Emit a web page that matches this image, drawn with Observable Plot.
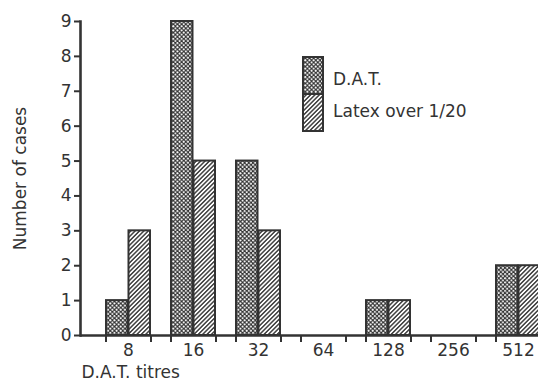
<!DOCTYPE html>
<html>
<head>
<meta charset="utf-8">
<script src="https://cdn.jsdelivr.net/npm/d3@7"></script>
<script src="https://cdn.jsdelivr.net/npm/@observablehq/plot@0.6"></script>
<style>
  html, body { margin: 0; padding: 0; background: #ffffff; overflow: hidden; }
  #wrap { position: relative; width: 538px; height: 383px; }
  #legend { position: absolute; left: 300px; top: 55px; }
</style>
</head>
<body>
<svg width="0" height="0" style="position:absolute">
  <defs>
    <pattern id="cross" width="4.2" height="4.2" patternUnits="userSpaceOnUse">
      <rect width="4.2" height="4.2" fill="#333"/>
      <circle cx="1.05" cy="1.05" r="1" fill="#fff"/>
      <circle cx="3.15" cy="3.15" r="1" fill="#fff"/>
    </pattern>
    <pattern id="hatch" width="3.1" height="3.1" patternUnits="userSpaceOnUse" patternTransform="rotate(45)">
      <rect width="3.1" height="3.1" fill="#fff"/>
      <line x1="1.55" y1="0" x2="1.55" y2="3.1" stroke="#333" stroke-width="1.4"/>
    </pattern>
  </defs>
</svg>
<div id="wrap"></div>
<script>
const categories = ["8", "16", "32", "64", "128", "256", "512"];
const datValues = [1, 9, 5, 0, 1, 0, 2];
const latexValues = [3, 5, 3, 0, 1, 0, 2];
const yTicks = [0, 1, 2, 3, 4, 5, 6, 7, 8, 9];
const seriesNames = ["D.A.T.", "Latex over 1/20"];
const xLabel = "D.A.T. titres";
const yLabel = "Number of cases";

const rows = categories.map((c, i) => ({titre: c, dat: datValues[i], latex: latexValues[i]}));

const xRange = [80, 567], pIn = 0.318, pOut = 0.35;
const bw = d3.scaleBand().domain(categories).range(xRange).paddingInner(pIn).paddingOuter(pOut).bandwidth();
const ink = "#333";
const font = "'DejaVu Sans', sans-serif";

const chart = Plot.plot({
  width: 538, height: 383,
  marginLeft: 80, marginRight: 0, marginTop: 21, marginBottom: 48,
  style: {fontFamily: font, fontSize: "17px", color: ink, background: "#ffffff"},
  x: {type: "band", domain: categories, range: xRange, paddingInner: pIn, paddingOuter: pOut, align: 0.5},
  y: {domain: [0, 9]},
  marks: [
    Plot.barY(rows, {filter: d => d.dat > 0, x: "titre", y: "dat", fill: "url(#cross)", stroke: ink, strokeWidth: 2, insetRight: bw / 2}),
    Plot.barY(rows, {filter: d => d.latex > 0, x: "titre", y: "latex", fill: "url(#hatch)", stroke: ink, strokeWidth: 2, insetLeft: bw / 2}),
    Plot.ruleY([0], {stroke: ink, strokeWidth: 2.6}),
    Plot.frame({anchor: "left", stroke: ink, strokeWidth: 2.6}),
    Plot.axisY({ticks: yTicks, tickSize: 6, tickPadding: 3, tickFormat: d => String(d), strokeWidth: 2,
      label: yLabel, labelAnchor: "center", labelOffset: 67, labelArrow: false, fontSize: 17}),
    Plot.axisX({tickSize: 0, tickPadding: 8, label: null, fontSize: 17}),
    Plot.axisX({tickSize: 7, tickFormat: () => "", label: null, dx: -bw / 2, strokeWidth: 2}),
    Plot.axisX({tickSize: 7, tickFormat: () => "", label: null, dx: bw / 2, strokeWidth: 2}),
    Plot.text([xLabel], {frameAnchor: "bottom-left", text: d => d, textAnchor: "start", lineAnchor: "middle", dy: 37, dx: 1, fontSize: 17, fill: ink})
  ]
});
document.getElementById("wrap").appendChild(chart);

// Legend overlay
const legend = d3.select("#wrap").append("svg").attr("id", "legend")
  .attr("width", 220).attr("height", 82)
  .style("font-family", font).style("font-size", "17px");
const fills = ["url(#cross)", "url(#hatch)"];
seriesNames.forEach((name, i) => {
  legend.append("rect").attr("x", 3).attr("y", 2 + i * 37).attr("width", 20).attr("height", 37)
    .attr("fill", fills[i]).attr("stroke", ink).attr("stroke-width", 2);
  legend.append("text").attr("x", 33).attr("y", 24 + i * 32).attr("dy", "0.35em")
    .attr("fill", ink).text(name);
});
</script>
</body>
</html>
